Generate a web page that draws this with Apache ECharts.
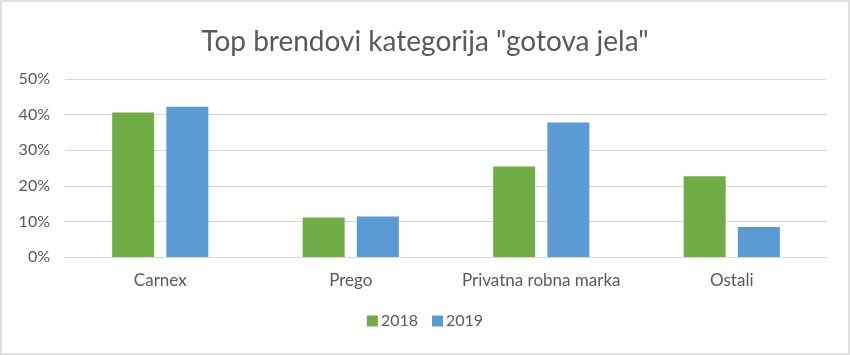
<!DOCTYPE html>
<html><head><meta charset="utf-8">
<script src="https://cdn.jsdelivr.net/npm/echarts@6/dist/echarts.min.js"></script>
<style>html,body{margin:0;padding:0;background:#fff}#c{width:850px;height:355px;box-sizing:border-box;border:2px solid #e0e0e0}</style>
</head><body><div id="c"></div>
<script>
var categories = ['Carnex', 'Prego', 'Privatna robna marka', 'Ostali'];
var values2018 = [40.6, 11.1, 25.4, 22.7];
var values2019 = [42.2, 11.4, 37.8, 8.4];
var seriesNames = ['2018', '2019'];
var chart = echarts.init(document.getElementById('c'), null, {renderer: 'canvas'});
var font = 'Lato';
chart.setOption({
  animation: false,
  title: {text: 'Top brendovi kategorija "gotova jela"', left: 'center', top: 21,
    textStyle: {fontFamily: font, fontSize: 28, fontWeight: 'normal', color: '#595959'}},
  legend: {data: seriesNames, bottom: 19, itemWidth: 11, itemHeight: 11, itemGap: 14, icon: 'rect',
    textStyle: {fontFamily: font, fontSize: 16, color: '#595959', padding: [0, 0, 0, -2]}},
  grid: {left: 63, right: 21, top: 77, bottom: 96},
  xAxis: {type: 'category', data: categories,
    axisLine: {lineStyle: {color: '#d9d9d9'}}, axisTick: {show: false},
    axisLabel: {interval: 0, hideOverlap: false, fontFamily: font, fontSize: 17, color: '#595959', margin: 15}},
  yAxis: {type: 'value', min: 0, max: 50, interval: 10,
    axisLabel: {formatter: '{value}%', fontFamily: font, fontSize: 16, color: '#595959', margin: 15},
    splitLine: {lineStyle: {color: '#d9d9d9'}}, axisLine: {show: false}, axisTick: {show: false}},
  series: [
    {name: seriesNames[0], type: 'bar', data: values2018, barGap: '29%', barCategoryGap: '49.5%',
     itemStyle: {color: '#70ad47'}},
    {name: seriesNames[1], type: 'bar', data: values2019, itemStyle: {color: '#5b9bd5'}}
  ]
});
</script></body></html>
